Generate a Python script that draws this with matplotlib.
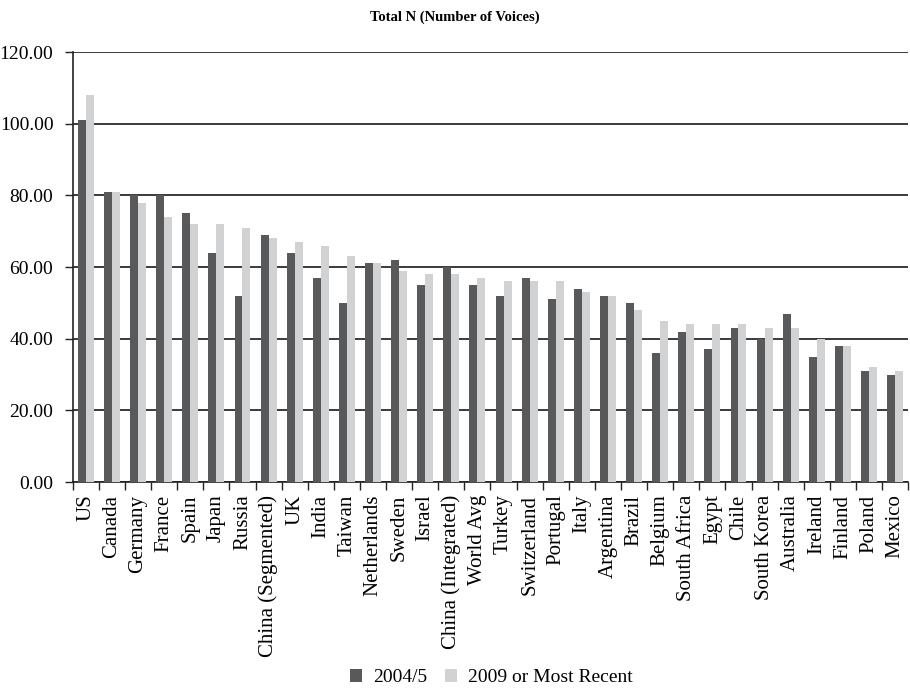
import matplotlib
matplotlib.use("Agg")
import matplotlib.pyplot as plt
import numpy as np

countries = ["US", "Canada", "Germany", "France", "Spain", "Japan", "Russia",
             "China (Segmented)", "UK", "India", "Taiwan", "Netherlands", "Sweden",
             "Israel", "China (Integrated)", "World Avg", "Turkey", "Switzerland",
             "Portugal", "Italy", "Argentina", "Brazil", "Belgium", "South Africa",
             "Egypt", "Chile", "South Korea", "Australia", "Ireland", "Finland",
             "Poland", "Mexico"]
voices_2004 = [101, 81, 80, 80, 75, 64, 52, 69, 64, 57, 50, 61, 62, 55, 60, 55,
               52, 57, 51, 54, 52, 50, 36, 42, 37, 43, 40, 47, 35, 38, 31, 30]
voices_2009 = [108, 81, 78, 74, 72, 72, 71, 68, 67, 66, 63, 61, 59, 58, 58, 57,
               56, 56, 56, 53, 52, 48, 45, 44, 44, 44, 43, 43, 40, 38, 32, 31]
series_labels = ["2004/5", "2009 or Most Recent"]
yticks = [0, 20, 40, 60, 80, 100, 120]

plt.rcParams["font.family"] = ["Liberation Serif", "DejaVu Serif"]

fig = plt.figure(figsize=(9.10, 6.89), dpi=100)
ax = fig.add_axes([0.080, 0.3004, 0.918, 0.6241])

x = np.arange(len(countries))
w = 0.305
dark, light = "#58595b", "#d1d2d4"
ax.bar(x - w / 2, voices_2004, width=w, color=dark, label=series_labels[0], zorder=3)
ax.bar(x + w / 2, voices_2009, width=w, color=light, label=series_labels[1], zorder=3)

ax.set_xlim(-0.5, len(countries) - 0.5)
ax.set_ylim(0, 120)
ax.set_yticks(yticks)
ax.set_yticklabels([f"{v:.2f}" for v in yticks], fontsize=14)
ax.yaxis.grid(True, color="#3a3a3a", linewidth=1.4, zorder=1)
ax.set_axisbelow(True)

ax.set_xticks(x)
ax.set_xticklabels(countries, rotation=90, fontsize=15)
ax.tick_params(axis="x", which="major", length=0, pad=9)
ax.set_xticks(np.arange(-0.5, len(countries) + 0.5, 1), minor=True)
ax.tick_params(axis="x", which="minor", length=6, width=1, color="#222222")
ax.tick_params(axis="y", length=6, width=1, color="#222222", pad=8)

for s in ["top", "right"]:
    ax.spines[s].set_visible(False)
for s in ["left", "bottom"]:
    ax.spines[s].set_color("#222222")
    ax.spines[s].set_linewidth(1.2)

fig.text(0.5, 0.975, "Total N (Number of Voices)", ha="center", va="center",
         fontsize=10.5, fontweight="bold")

fig.legend(loc="center", bbox_to_anchor=(0.54, 0.016), ncol=2, frameon=False,
           fontsize=14, handlelength=0.6, handleheight=0.6, handletextpad=0.6,
           columnspacing=0.9)

fig.savefig("out.png", dpi=100)
